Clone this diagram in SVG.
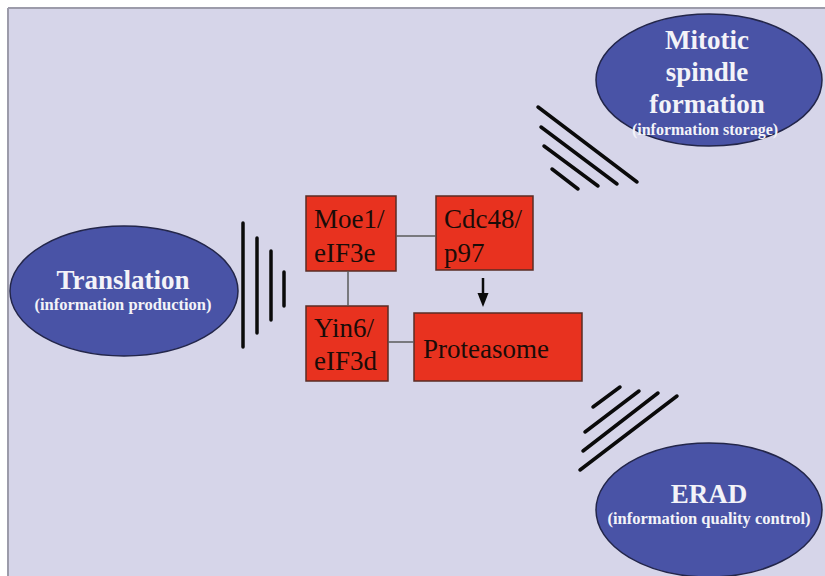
<svg xmlns="http://www.w3.org/2000/svg" width="825" height="576" viewBox="0 0 825 576">
<style>
.ell{fill:#4953a6;stroke:#23264a;stroke-width:1.5}
.box{fill:#e8321f;stroke:#5a2c24;stroke-width:1.5}
.big{font-family:"Liberation Serif","Times New Roman",serif;font-weight:bold;font-size:27px;fill:#f3f3f8;text-anchor:middle}
.small{font-family:"Liberation Serif","Times New Roman",serif;font-weight:bold;font-size:16.5px;fill:#f3f3f8;text-anchor:middle}
.lbl{font-family:"Liberation Serif","Times New Roman",serif;font-size:27px;fill:#1a0c08}
.hash{stroke:#0a0a0a;stroke-width:3.5;stroke-linecap:round}
.conn{stroke:#5a5a5a;stroke-width:1.5;fill:none}
</style>
<rect x="0" y="0" width="825" height="576" fill="#ffffff"/>
<rect x="8" y="8" width="830" height="580" fill="#d6d5e9"/>
<line x1="8" y1="8" x2="825" y2="8" stroke="#9c9baa" stroke-width="2"/>
<line x1="8" y1="8" x2="8" y2="576" stroke="#9c9baa" stroke-width="2"/>

<g id="translation">
<ellipse class="ell" cx="124" cy="291" rx="114" ry="65"/>
<text class="big" x="123" y="289">Translation</text>
<text class="small" x="123" y="310">(information production)</text>
</g>

<g id="mitotic">
<ellipse class="ell" cx="709" cy="80" rx="113" ry="66"/>
<text class="big" x="707" y="49">Mitotic</text>
<text class="big" x="707" y="81">spindle</text>
<text class="big" x="707" y="113">formation</text>
<text class="small" x="705" y="135" style="font-size:16px">(information storage)</text>
</g>

<g id="erad">
<ellipse class="ell" cx="709" cy="510" rx="113" ry="67"/>
<text class="big" x="709" y="503">ERAD</text>
<text class="small" x="709" y="524">(information quality control)</text>
</g>

<g id="moe1">
<rect class="box" x="306" y="196" width="90" height="75"/>
<text class="lbl" x="314" y="228">Moe1/</text>
<text class="lbl" x="314" y="262">eIF3e</text>
</g>

<g id="cdc48">
<rect class="box" x="436" y="196" width="97" height="74"/>
<text class="lbl" x="444" y="228">Cdc48/</text>
<text class="lbl" x="444" y="262">p97</text>
</g>

<g id="yin6">
<rect class="box" x="306" y="306" width="82" height="75"/>
<text class="lbl" x="314" y="337">Yin6/</text>
<text class="lbl" x="314" y="370">eIF3d</text>
</g>

<g id="proteasome">
<rect class="box" x="414" y="313" width="168" height="68"/>
<text class="lbl" x="423" y="358">Proteasome</text>
</g>

<g id="connectors">
<line class="conn" x1="396" y1="236" x2="436" y2="236"/>
<line class="conn" x1="348" y1="271" x2="348" y2="306"/>
<line class="conn" x1="388" y1="342" x2="414" y2="342"/>
<line x1="483" y1="278" x2="483" y2="295" stroke="#0a0a0a" stroke-width="2.5"/>
<polygon points="477.5,293 488.5,293 483,307" fill="#0a0a0a"/>
</g>

<g id="hash-translation">
<line class="hash" x1="243" y1="223" x2="243" y2="347"/>
<line class="hash" x1="257" y1="238" x2="257" y2="333"/>
<line class="hash" x1="271" y1="251" x2="271" y2="320"/>
<line class="hash" x1="284" y1="272" x2="284" y2="306"/>
</g>

<g id="hash-mitotic">
<line class="hash" x1="538" y1="107" x2="637" y2="182"/>
<line class="hash" x1="541" y1="127" x2="617" y2="184"/>
<line class="hash" x1="544" y1="146" x2="598" y2="186"/>
<line class="hash" x1="552" y1="169" x2="578" y2="189"/>
</g>

<g id="hash-erad">
<line class="hash" x1="593" y1="407" x2="620" y2="387"/>
<line class="hash" x1="585" y1="432" x2="639" y2="391"/>
<line class="hash" x1="583" y1="451" x2="658" y2="393"/>
<line class="hash" x1="580" y1="470" x2="677" y2="396"/>
</g>
</svg>
